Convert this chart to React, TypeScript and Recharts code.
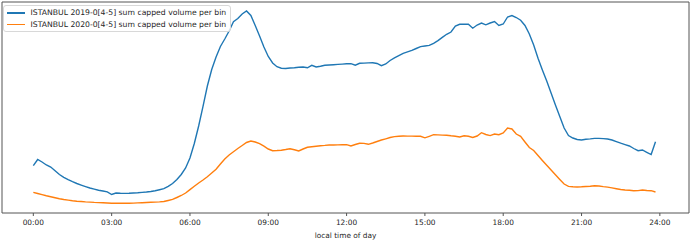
import { LineChart, Line, XAxis, YAxis, Legend } from 'recharts';

document.body.style.margin = '0';

// 10-minute bins over the day
const MINUTES = Array.from({ length: 144 }, (_, i) => i * 10);
const HOUR_TICKS = [0, 180, 360, 540, 720, 900, 1080, 1260, 1440];

const NAME_2019 = 'ISTANBUL 2019-0[4-5] sum capped volume per bin';
const NAME_2020 = 'ISTANBUL 2020-0[4-5] sum capped volume per bin';

// one row per hour (6 bins)
const VOLUME_2019 = [
  47.3, 53.5, 51, 48, 46, 42.3,
  38.5, 35.7, 33.4, 31.3, 29.5, 27.9,
  26.4, 25, 23.9, 22.8, 22, 21.2,
  18.5, 20, 19.7, 19.6, 19.7, 20,
  20.2, 20.6, 21, 21.5, 22.2, 23.2,
  24.3, 26.6, 29.5, 33.5, 38.5, 45,
  55, 69.5, 87, 106.7, 127, 143.5,
  156, 166.5, 174, 182, 191.3, 194.5,
  199, 202, 197.5, 187.5, 177, 166,
  156.5, 150, 146.3, 144.8, 144.5, 145,
  145.3, 145.7, 146, 145.2, 147.7, 146,
  146.8, 147.7, 148, 148.3, 148.6, 148.9,
  149.2, 149.4, 147.8, 149.7, 149.9, 150.1,
  150.3, 149.5, 147.3, 149, 152.5, 155.2,
  157.4, 159.7, 161.1, 162.6, 164.5, 166.4,
  167, 167.6, 169.7, 172.4, 175.6, 178.7,
  181, 187, 188.7, 188.9, 188.8, 184.8,
  188, 190, 188.2, 190, 191.5, 187.5,
  189, 196, 197.5, 195.5, 192.8, 187.5,
  179, 168, 154.7, 143, 132, 120,
  108, 96.5, 85, 77.5, 75, 73.5,
  73, 73.7, 74.1, 74.6, 74.6, 74.4,
  74, 73, 71.4, 69.8, 68.4, 67,
  64.5, 62.3, 63, 60.7, 58.5, 71.3,
];

const VOLUME_2020 = [
  20.7, 19.5, 18.3, 17.2, 16.3, 15.3,
  14.3, 13.5, 12.9, 12.2, 11.8, 11.5,
  11.1, 10.9, 10.6, 10.4, 10.2, 10,
  9.8, 9.7, 9.7, 9.7, 9.7, 9.9,
  10.1, 10.3, 10.5, 10.7, 10.9, 11.1,
  11.5, 12.5, 13.6, 15.5, 17.5, 20,
  23.4, 26.7, 30, 33, 36.3, 40,
  43.8, 49, 54, 58, 61.3, 64.5,
  67.5, 70.5, 72, 71, 69.3, 66.8,
  64, 62.3, 62.5, 62.8, 63.5, 64.3,
  63.2, 62, 64, 65.7, 66.3, 66.8,
  67.3, 67.6, 68, 68, 68.1, 68.2,
  68.3, 67, 68.5, 69.7, 69.6, 68.7,
  70, 71.5, 73, 74.2, 75.5, 76.4,
  76.7, 77, 76.9, 76.9, 76.8, 76.7,
  75.2, 76.7, 78.3, 78.1, 77.9, 77.7,
  77.2, 76.8, 76, 77.2, 76.7, 75.6,
  77, 80.3, 78.5, 77.4, 79, 78.3,
  80, 85, 84, 79, 76.7, 71,
  65.5, 62.5, 57.5, 52.5, 47.7, 43,
  38.2, 33.5, 29, 26.6, 26.2, 26,
  26.2, 26.5, 26.8, 27.2, 27, 26.4,
  25.9, 25.1, 24.3, 23.5, 23, 22.7,
  22.2, 22.4, 23, 22.5, 22.3, 21,
];

const BLUE = '#1f77b4';
const ORANGE = '#ff7f0e';
const SPINE = '#555';
const TEXT = '#262626';
const FONT = "'DejaVu Sans', sans-serif";

const data = MINUTES.map((m, i) => ({ m, v2019: VOLUME_2019[i], v2020: VOLUME_2020[i] }));

const fmtHour = (m: number) => `${String(m / 60).padStart(2, '0')}:00`;

function LegendBox() {
  const items = [
    { name: NAME_2019, color: BLUE },
    { name: NAME_2020, color: ORANGE },
  ];
  return (
    <div
      style={{
        border: '1px solid #d8d8d8',
        borderRadius: 3,
        background: 'rgba(255,255,255,0.8)',
        padding: '1px 4px 1px 3px',
        fontFamily: FONT,
        fontSize: 7.7,
        color: TEXT,
      }}
    >
      {items.map((it) => (
        <div key={it.name} style={{ display: 'flex', alignItems: 'center', height: 11.6 }}>
          <span style={{ display: 'inline-block', width: 18, height: 1.5, background: it.color, marginRight: 5.5 }} />
          <span style={{ whiteSpace: 'nowrap' }}>{it.name}</span>
        </div>
      ))}
    </div>
  );
}

export default function App() {
  return (
    <LineChart width={694} height={243} data={data} margin={{ top: 1, right: 4, left: 1, bottom: 0 }} style={{ fontFamily: FONT }}>
      <XAxis
        dataKey="m"
        type="number"
        domain={[-72, 1507]}
        ticks={HOUR_TICKS}
        tickFormatter={fmtHour}
        height={30}
        tickSize={3}
        tickMargin={3.5}
        axisLine={{ stroke: SPINE }}
        tickLine={{ stroke: SPINE }}
        tick={{ fill: TEXT, fontSize: 7.4 }}
        allowDataOverflow
        label={{ value: 'local time of day', position: 'insideBottom', offset: 5, fill: TEXT, fontSize: 7.4 }}
      />
      <XAxis xAxisId="top" orientation="top" dataKey="m" type="number" domain={[-72, 1507]} height={1} tick={false} tickLine={false} axisLine={{ stroke: SPINE }} />
      <YAxis domain={[0, 211]} width={1} tick={false} tickLine={false} axisLine={{ stroke: SPINE }} allowDataOverflow />
      <YAxis yAxisId="right" orientation="right" domain={[0, 211]} width={1} tick={false} tickLine={false} axisLine={{ stroke: SPINE }} />
      <Legend
        layout="horizontal"
        verticalAlign="middle"
        align="center"
        content={() => <LegendBox />}
        wrapperStyle={{ top: 5, left: 3, width: 'auto', height: 'auto' }}
      />
      <Line dataKey="v2019" stroke={BLUE} strokeWidth={1.4} dot={false} type="linear" isAnimationActive={false} />
      <Line dataKey="v2020" stroke={ORANGE} strokeWidth={1.4} dot={false} type="linear" isAnimationActive={false} />
    </LineChart>
  );
}
